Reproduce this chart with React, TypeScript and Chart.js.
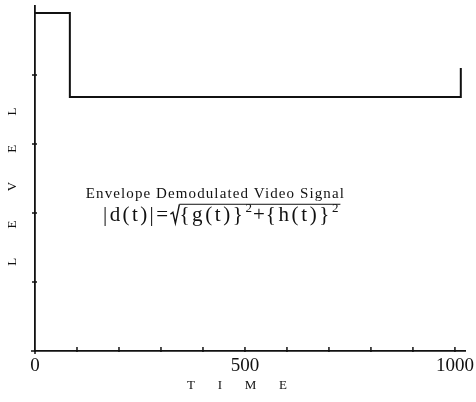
import React, { useEffect, useRef } from "react";
import { Chart, registerables } from "chart.js";
Chart.register(...registerables);

// ---- data ----
const times = [0, 83, 83, 1014, 1014];
const levels = [4.9, 4.9, 3.68, 3.68, 4.1];
const xTickLabels: Record<number, string> = { 0: "0", 500: "500", 1000: "1000" };
const xMin = 0;
const xMax = 1024;
const xStep = 100;
const yMin = 0;
const yMax = 5;
const yStep = 1;
const xTitle = "T       I       M       E        ";
const yTitle = "L         E         V         E         L     ";
const captionText = "Envelope Demodulated Video Signal";
const captionAt = [121, 2.22];
const formulaAt = [162, 1.88];

const SERIF = "'Liberation Serif', 'DejaVu Serif', serif";

const decorPlugin = {
  id: "decor",
  afterDraw(chart: any) {
    const { ctx } = chart;
    const x = chart.scales.x;
    const y = chart.scales.y;
    ctx.save();
    ctx.strokeStyle = "#111";
    ctx.fillStyle = "#111";
    ctx.lineWidth = 1.5;
    // x ticks (inward/crossing)
    const y0 = y.getPixelForValue(yMin);
    x.ticks.forEach((t: any) => {
      if (t.value === xMin) return;
      const px = x.getPixelForValue(t.value);
      ctx.beginPath();
      ctx.moveTo(px, y0 - 4);
      ctx.lineTo(px, y0 + 1);
      ctx.stroke();
    });
    const x0 = x.getPixelForValue(xMin);
    y.ticks.forEach((t: any) => {
      if (t.value === yMin || t.value === yMax) return;
      const py = y.getPixelForValue(t.value);
      ctx.beginPath();
      ctx.moveTo(x0 - 3, py);
      ctx.lineTo(x0 + 2, py);
      ctx.stroke();
    });
    // origin crossing
    ctx.beginPath();
    ctx.moveTo(x0 - 4, y0);
    ctx.lineTo(x0, y0);
    ctx.moveTo(x0, y0);
    ctx.lineTo(x0, y0 + 3);
    ctx.stroke();

    // caption
    ctx.textBaseline = "alphabetic";
    ctx.textAlign = "left";
    ctx.font = `15px ${SERIF}`;
    (ctx as any).letterSpacing = "1.1px";
    ctx.fillText(captionText, x.getPixelForValue(captionAt[0]), y.getPixelForValue(captionAt[1]));

    // formula
    let fx = x.getPixelForValue(formulaAt[0]);
    const base = y.getPixelForValue(formulaAt[1]);
    const main = `21px ${SERIF}`;
    const sup = `13px ${SERIF}`;
    const put = (s: string, font: string, dy: number, ls: string) => {
      ctx.font = font;
      (ctx as any).letterSpacing = ls;
      ctx.fillText(s, fx, base + dy);
      fx += ctx.measureText(s).width;
    };
    put("|d(t)|=", main, 0, "2.4px");
    // radical sign
    const sx = fx;
    ctx.lineWidth = 1.4;
    ctx.beginPath();
    ctx.moveTo(sx, base - 7);
    ctx.lineTo(sx + 2.5, base - 9);
    ctx.lineTo(sx + 5, base + 2);
    ctx.lineTo(sx + 9, base - 17);
    ctx.stroke();
    fx += 9;
    const startOver = fx;
    put("{g(t)}", main, 0, "2.6px");
    put("2", sup, -9, "0px");
    fx += 1;
    put("+", main, 0, "1px");
    put("{h(t)}", main, 0, "2.6px");
    put("2", sup, -9, "0px");
    ctx.lineWidth = 1;
    ctx.beginPath();
    ctx.moveTo(startOver, base - 17);
    ctx.lineTo(fx + 2, base - 17);
    ctx.stroke();
    ctx.restore();
  },
};

export default function App() {
  const ref = useRef<HTMLCanvasElement | null>(null);
  useEffect(() => {
    if (!ref.current) return;
    const chart = new Chart(ref.current, {
      type: "line",
      data: {
        datasets: [
          {
            data: times.map((t, i) => ({ x: t, y: levels[i] })),
            borderColor: "#111",
            borderWidth: 2,
            pointRadius: 0,
            fill: false,
            tension: 0,
          },
        ],
      },
      options: {
        animation: false,
        responsive: false,
        maintainAspectRatio: false,
        layout: { padding: { top: 6, right: 11, left: 0, bottom: 0 } },
        plugins: { legend: { display: false }, tooltip: { enabled: false } },
        scales: {
          x: {
            type: "linear",
            min: xMin,
            max: xMax,
            afterFit: (s: any) => {
              s.height = 51;
              s.paddingLeft = 0;
              s.paddingRight = 0;
            },
            border: { display: true, color: "#111", width: 1.8 },
            grid: { display: true, drawOnChartArea: false, drawTicks: false },
            ticks: {
              stepSize: xStep,
              includeBounds: false,
              autoSkip: false,
              maxRotation: 0,
              padding: 4,
              color: "#111",
              font: { family: SERIF, size: 19 },
              callback: (v: any) => xTickLabels[v as number] ?? "",
            },
            title: {
              display: true,
              text: xTitle,
              color: "#111",
              font: { family: SERIF, size: 13 },
              padding: { top: 0, bottom: 9 },
            },
          },
          y: {
            type: "linear",
            min: yMin,
            max: yMax,
            afterFit: (s: any) => {
              s.width = 35;
              s.paddingTop = 0;
              s.paddingBottom = 0;
            },
            border: { display: true, color: "#111", width: 1.8 },
            grid: { display: true, drawOnChartArea: false, drawTicks: false },
            ticks: { stepSize: yStep, display: false },
            title: {
              display: true,
              text: yTitle,
              color: "#111",
              font: { family: SERIF, size: 13 },
              padding: { top: 5, bottom: 0 },
            },
          },
        },
      },
      plugins: [decorPlugin],
    });
    return () => chart.destroy();
  }, []);
  return (
    <div style={{ position: "fixed", left: 0, top: 0, width: 476, height: 402, background: "#fff" }}>
      <canvas ref={ref} width={476} height={402} style={{ display: "block" }} />
    </div>
  );
}
